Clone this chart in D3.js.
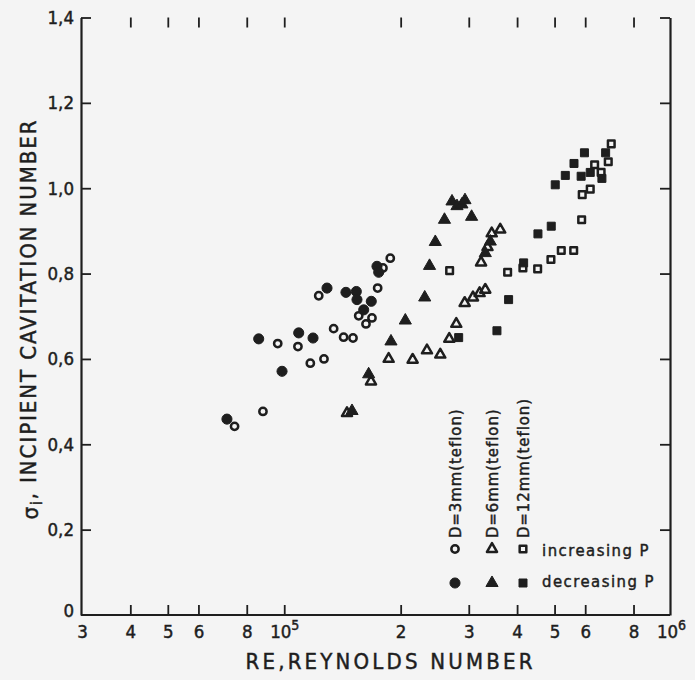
<!DOCTYPE html>
<html>
<head>
<meta charset="utf-8">
<script src="https://cdn.jsdelivr.net/npm/d3@7"></script>
<style>
  html, body { margin: 0; padding: 0; background: #f4f4f4; }
  svg { display: block; }
  text { font-family: "DejaVu Sans Condensed", "DejaVu Sans", sans-serif; fill: #1e1e1e; stroke: #1e1e1e; stroke-width: 0.45px; }
</style>
</head>
<body>
<svg id="chart" width="695" height="680"></svg>
<script>
// ---------------- data (Re, sigma_i) ----------------
const d3mmIncreasing = [[74400,0.442],[88100,0.477],[96200,0.636],[108500,0.629],[116800,0.590],[122800,0.748],[126700,0.600],[134200,0.671],[142400,0.651],[150600,0.649],[155800,0.701],[162700,0.682],[168600,0.696],[174400,0.766],[180000,0.813],[188000,0.836]];
const d3mmDecreasing = [[71100,0.459],[85900,0.647],[98700,0.571],[109000,0.661],[118700,0.649],[129000,0.766],[144400,0.756],[153600,0.758],[154200,0.739],[160500,0.715],[167900,0.735],[173700,0.817],[175500,0.803]];
const d6mmIncreasing = [[145300,0.473],[167600,0.547],[186200,0.600],[214800,0.598],[233900,0.620],[253200,0.610],[267100,0.647],[278500,0.682],[292800,0.731],[307600,0.744],[320000,0.754],[331000,0.762],[322800,0.826],[335400,0.862],[343900,0.894],[361800,0.903]];
const d6mmDecreasing = [[149700,0.478],[165300,0.564],[188800,0.641],[205600,0.690],[230800,0.744],[237500,0.818],[245800,0.874],[259600,0.926],[271500,0.969],[279700,0.958],[288000,0.962],[293300,0.972],[305100,0.933],[331000,0.848],[341000,0.875]];
const d12mmIncreasing = [[267700,0.807],[378100,0.803],[414100,0.813],[452100,0.811],[489300,0.833],[520400,0.854],[560300,0.854],[587500,0.926],[589500,0.985],[618300,0.998],[634700,1.055],[659700,1.037],[688300,1.062],[700700,1.104]];
const d12mmDecreasing = [[282500,0.650],[354800,0.666],[380300,0.739],[415900,0.825],[452900,0.893],[490200,0.911],[502000,1.008],[533000,1.030],[561300,1.058],[585700,1.028],[597300,1.083],[618300,1.037],[662800,1.023],[677600,1.083]];

const xTickValues = [3e4,4e4,5e4,6e4,8e4,1e5,2e5,3e5,4e5,5e5,6e5,8e5,1e6];
const xTickLabels = ["3","4","5","6","8","10^5","2","3","4","5","6","8","10^6"];
const yTickValues = [0,0.2,0.4,0.6,0.8,1.0,1.2,1.4];
const yTickLabels = ["0","0,2","0,4","0,6","0,8","1,0","1,2","1,4"];
const legendRows = ["D=3mm(teflon)","D=6mm(teflon)","D=12mm(teflon)"];
const legendStates = ["increasing P","decreasing P"];
const xTitle = "RE,REYNOLDS NUMBER";
const yTitle = ", INCIPIENT CAVITATION NUMBER";

// ---------------- layout ----------------
const ink = "#1e1e1e";
const L = 81, R = 670, T = 17.5, B = 615;
const svg = d3.select("#chart");
svg.append("rect").attr("width",695).attr("height",680).attr("fill","#f4f4f4");

const x = d3.scaleLog().domain([3e4,1e6]).range([L+1,R+1]);
const y = d3.scaleLinear().domain([0,1.4]).range([B,T]);
const TK = 10;

function styleAxis(g){
  g.selectAll("path.domain").attr("stroke",ink).attr("stroke-width",2.2);
  g.selectAll(".tick line").attr("stroke",ink).attr("stroke-width",1.8);
  g.selectAll("text").style("font-size","18.5px").attr("fill",ink);
}

// bottom axis
const gx = svg.append("g").attr("transform",`translate(0,${B})`)
  .call(d3.axisBottom(x).tickValues(xTickValues).tickSize(-TK).tickSizeOuter(0).tickPadding(10)
        .tickFormat((d,i)=>xTickLabels[i]));
styleAxis(gx);
gx.select("path.domain").attr("d",`M${L},0H${R}`);
gx.selectAll(".tick text").each(function(d,i){
  const lab = xTickLabels[i];
  if (lab.includes("^")) {
    const [b,e] = lab.split("^");
    const t = d3.select(this).text("");
    t.append("tspan").text(b);
    t.append("tspan").attr("dy","-0.6em").style("font-size","14px").text(e);
  }
});
gx.selectAll(".tick").filter(d=>d===3e4||d===1e6).select("line").remove();

// top axis (ticks only)
const gt = svg.append("g").attr("transform",`translate(0,${T})`)
  .call(d3.axisTop(x).tickValues(xTickValues).tickSize(-TK).tickSizeOuter(0).tickFormat(""));
styleAxis(gt);
gt.select("path.domain").remove();
gt.selectAll(".tick").filter(d=>d===3e4||d===1e6).remove();

// left axis
const gy = svg.append("g").attr("transform",`translate(${L},0)`)
  .call(d3.axisLeft(y).tickValues(yTickValues).tickSize(-TK).tickSizeOuter(0).tickPadding(7)
        .tickFormat((d,i)=>yTickLabels[i]));
styleAxis(gy);
gy.selectAll(".tick").filter(d=>d===0).select("text").attr("dy","0.1em");
gy.selectAll(".tick").filter(d=>d===0).select("line").remove();

// right axis (ticks only)
const gr = svg.append("g").attr("transform",`translate(${R},0)`)
  .call(d3.axisRight(y).tickValues(yTickValues).tickSize(-TK).tickSizeOuter(0).tickFormat(""));
styleAxis(gr);
gr.selectAll(".tick").filter(d=>d===0).remove();

// axis titles
svg.append("text").attr("x",389).attr("y",669).attr("text-anchor","middle")
  .attr("textLength",287).attr("lengthAdjust","spacing")
  .style("font-size","22px").text(xTitle);
const yt = svg.append("text").attr("transform",`translate(30,320) rotate(-90)`)
  .attr("text-anchor","middle").attr("dy","0.36em")
  .attr("textLength",399).attr("lengthAdjust","spacing")
  .style("font-size","22px");
yt.append("tspan").text("σ");
yt.append("tspan").attr("dy","0.3em").style("font-size","15px").text("i");
yt.append("tspan").attr("dy","-0.3em").text(yTitle);

// ---------------- markers ----------------
const shapeType = {circle: d3.symbolCircle, triangle: d3.symbolTriangle, square: d3.symbolSquare};
const shapeSize = {
  circle:   {open: 42, filled: 80},
  triangle: {open: 44, filled: 64},
  square:   {open: 44, filled: 64}
};
function markerAttrs(sel, shape, filled){
  sel.attr("d", d3.symbol().type(shapeType[shape]).size(shapeSize[shape][filled?"filled":"open"])())
     .attr("fill", filled?ink:"none").attr("stroke",ink)
     .attr("stroke-width",filled?1:2.5).attr("stroke-linejoin","round");
}
function drawSeries(data, shape, filled){
  const sel = svg.append("g").selectAll("path").data(data).join("path")
    .attr("transform",d=>`translate(${x(d[0])},${y(d[1])})`);
  markerAttrs(sel, shape, filled);
}
drawSeries(d3mmIncreasing,"circle",false);
drawSeries(d3mmDecreasing,"circle",true);
drawSeries(d6mmIncreasing,"triangle",false);
drawSeries(d6mmDecreasing,"triangle",true);
drawSeries(d12mmIncreasing,"square",false);
drawSeries(d12mmDecreasing,"square",true);

// ---------------- legend ----------------
const legCols = [455, 492, 523];
const legShapes = ["circle","triangle","square"];
const legRowY = [549, 583];
legendRows.forEach((lab,i)=>{
  svg.append("text").attr("transform",`translate(${legCols[i]},538) rotate(-90)`)
    .attr("dy","0.36em").style("font-size","16.5px").style("letter-spacing","1px").text(lab);
  legRowY.forEach((yy,j)=>{
    const p = svg.append("path").attr("transform",`translate(${legCols[i]},${yy})`);
    markerAttrs(p, legShapes[i], j===1);
  });
});
legendStates.forEach((lab,j)=>{
  svg.append("text").attr("x",542).attr("y",[550,581][j]).attr("dy","0.35em")
    .style("font-size","16.5px").style("letter-spacing","1.5px").text(lab);
});
</script>
</body>
</html>
